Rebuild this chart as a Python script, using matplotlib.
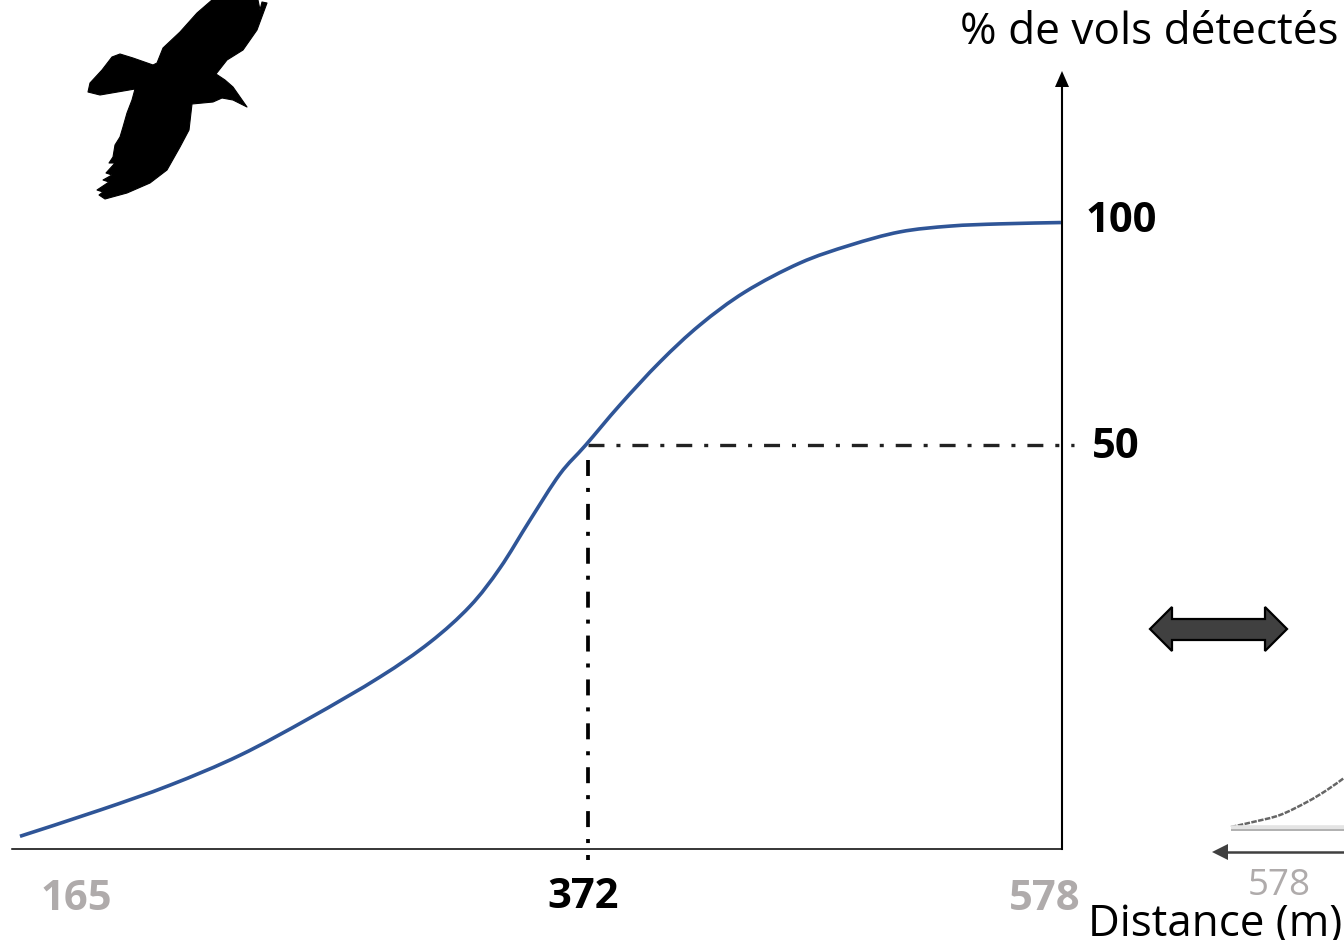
import matplotlib
matplotlib.use('Agg')
import matplotlib.pyplot as plt
from matplotlib.patches import Polygon, PathPatch
from matplotlib.path import Path

plt.rcParams['font.family'] = ['Open Sans', 'DejaVu Sans']
plt.rcParams['lines.scale_dashes'] = False

# courbe
distance = [124.6, 159.5, 190.0, 220.4, 250.9, 281.4, 303.2, 320.6, 333.7, 346.7, 359.8, 371.0,
            385.9, 403.4, 420.8, 440.4, 464.3, 486.1, 507.9, 529.7, 551.4, 578.0]
pct_vols = [-37.9, -32.0, -26.4, -19.7, -11.3, -2.1, 5.7, 13.8, 22.4, 33.1, 43.5, 50.0,
            59.0, 68.7, 77.0, 84.4, 90.9, 94.9, 97.9, 99.2, 99.7, 100.0]
dist_50 = 372
dist_max = 578
pct_50 = 50

x_labels = ['165', '372', '578']
y_labels = ['100', '50']

# morceau de la courbe voisine, coupee par le bord droit (pixels)
voisine_x = [1231, 1253, 1280, 1307, 1327, 1344]
voisine_y = [827, 822, 815, 802, 790, 778]

# silhouette de l'oiseau (pixels)
oiseau_x = [212, 197, 180, 163, 157, 153, 133, 120, 112, 102, 90, 88, 100, 135, 132, 127, 123, 120,
            115, 113, 109, 115, 106, 112, 103, 109, 97, 103, 99, 105, 127, 150, 167, 180, 189, 192,
            213, 222, 233, 247, 233, 225, 216, 227, 243, 257, 267, 262, 260, 258]
oiseau_y = [0, 13, 32, 48, 63, 65, 58, 54, 57, 70, 83, 92, 95, 89, 100, 113, 127, 137,
            145, 157, 163, 163, 173, 175, 180, 182, 190, 192, 195, 199, 193, 183, 170, 147, 130, 104,
            102, 98, 100, 107, 87, 80, 74, 60, 50, 30, 3, 2, 10, 0]

GRIS = '#AFABAB'
BLEU = '#2F5597'
FONCE = '#404040'
W, H = 1344, 940


def courbe_lisse(xs, ys):
    # segments de Bezier passant par les points lus
    sommets = [(xs[0], ys[0])]
    codes = [Path.MOVETO]
    n = len(xs)
    for i in range(n - 1):
        a, b = max(i - 1, 0), min(i + 2, n - 1)
        sommets.append((xs[i] + (xs[i + 1] - xs[a]) / 6, ys[i] + (ys[i + 1] - ys[a]) / 6))
        sommets.append((xs[i + 1] - (xs[b] - xs[i]) / 6, ys[i + 1] - (ys[b] - ys[i]) / 6))
        sommets.append((xs[i + 1], ys[i + 1]))
        codes += [Path.CURVE4] * 3
    return Path(sommets, codes)


fig = plt.figure(figsize=(W / 100, H / 100), dpi=100)
fig.patch.set_facecolor('white')

# axe des donnees, echelle lineaire cale sur 372/578 et 50/100
ax = fig.add_axes([0, 0, 1, 1])
ax.set_xlim(115.9, 701.3)
ax.set_ylim(-61.2, 150.0)
ax.set_axis_off()

ax.add_patch(PathPatch(courbe_lisse(distance, pct_vols), fc='none', ec=BLEU, lw=2.6, zorder=3))

motif = (0, (11.5, 8.6, 2.9, 8.6))
ax.plot([dist_50, dist_max + 5.9], [pct_50, pct_50], color='#222222', lw=2.4, ls=motif,
        dash_capstyle='butt')
ax.plot([dist_50, dist_50], [46.6, -43.3], color='black', lw=2.7, ls=motif, dash_capstyle='butt')

# calque en pixels pour les axes dessines, textes et decors
ov = fig.add_axes([0, 0, 1, 1])
ov.set_xlim(0, W)
ov.set_ylim(H, 0)
ov.set_axis_off()
ov.patch.set_alpha(0)

ov.plot([12, 1062], [849, 849], color='black', lw=1.1)
ov.plot([1062, 1062], [849, 85], color='black', lw=1.5)
ov.add_patch(Polygon([(1062, 71), (1055, 87), (1069, 87)], closed=True, fc='black', ec='none'))

ov.add_patch(Polygon(list(zip(oiseau_x, oiseau_y)), closed=True, fc='black', ec='black', lw=0.8,
                     joinstyle='round'))

# double fleche
ov.add_patch(Polygon([(1150, 629), (1172, 607), (1172, 619), (1265, 619), (1265, 607), (1287, 629),
                      (1265, 651), (1265, 640), (1172, 640), (1172, 651)],
                     closed=True, fc=FONCE, ec='black', lw=1.6, joinstyle='miter'))

# graphique voisin
ov.plot([1231, 1344], [828, 828], color='#E4E4E4', lw=4, solid_capstyle='butt')
ov.plot([1231, 1344], [830, 830], color='#A8A8A8', lw=1.2, solid_capstyle='butt')
ov.add_patch(PathPatch(courbe_lisse(voisine_x, voisine_y), fc='none', ec='#666666', lw=1.8,
                       ls=(0, (4, 1))))
ov.plot([1225, 1344], [852, 852], color=FONCE, lw=1.8, solid_capstyle='butt')
ov.add_patch(Polygon([(1212, 852), (1228, 844), (1228, 860)], closed=True, fc=FONCE, ec='none'))

ov.text(1149, 33, '% de vols détectés', fontsize=31.8, ha='center', va='center', color='black')
# la parenthese est coupee par le bas de l'image comme sur l'original
ov.text(1342, 936, 'Distance (m)', fontsize=31.6, ha='right', va='baseline', color='black')

ov.text(1121, 222, y_labels[0], fontsize=30, fontweight='bold', ha='center', va='center')
ov.text(1116, 448, y_labels[1], fontsize=30, fontweight='bold', ha='center', va='center')
ov.text(76, 900, x_labels[0], fontsize=30, fontweight='bold', ha='center', va='center', color=GRIS)
ov.text(583, 897, x_labels[1], fontsize=30, fontweight='bold', ha='center', va='center', color='black')
ov.text(1045, 900, x_labels[2], fontsize=30, fontweight='bold', ha='center', va='center', color=GRIS)
ov.text(1279, 895, x_labels[2], fontsize=26.5, ha='center', va='baseline', color=GRIS)

fig.savefig('out.png', dpi=100)
plt.close(fig)
